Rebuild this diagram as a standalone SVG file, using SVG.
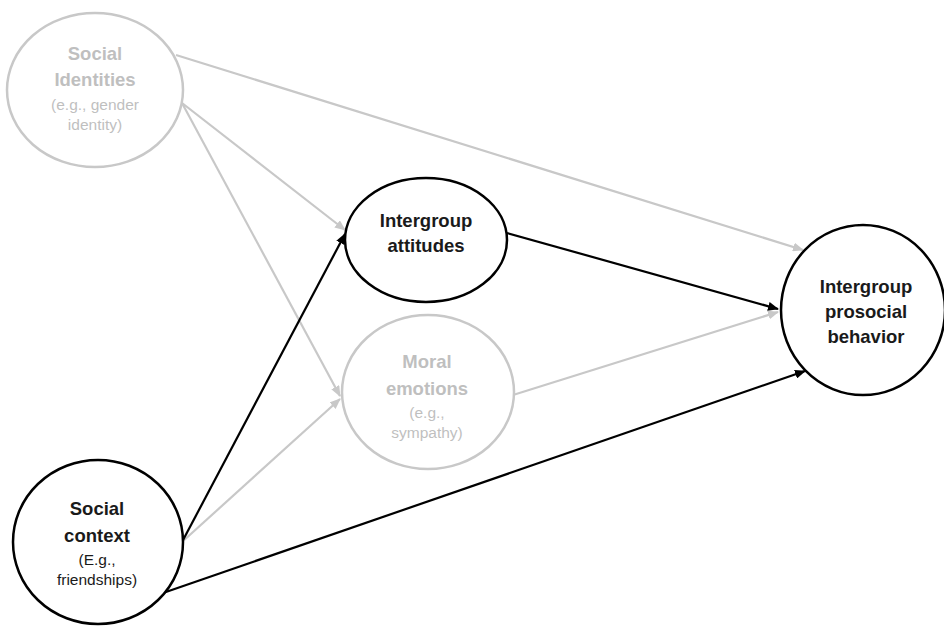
<svg xmlns="http://www.w3.org/2000/svg" width="944" height="628" viewBox="0 0 944 628">
<style>
.nb{fill:#fff;stroke:#000;stroke-width:2.5}
.ng{fill:#fff;stroke:#c8c8c8;stroke-width:2.5}
.t{font-family:"Liberation Sans",Arial,sans-serif;text-anchor:middle}
.b{font-weight:bold;font-size:18.5px}
.r{font-size:15.5px}
.tb{fill:#1a1a1a}
.tg{fill:#bfbfbf}
.cb{stroke:#000;stroke-width:2.2;fill:none}
.cg{stroke:#c8c8c8;stroke-width:2.2;fill:none}
</style>
<defs>
<marker id="ab" markerUnits="userSpaceOnUse" markerWidth="11" markerHeight="9" refX="10" refY="4.5" orient="auto"><path d="M0,0 L11,4.5 L0,9 z" fill="#000"/></marker>
<marker id="ag" markerUnits="userSpaceOnUse" markerWidth="11" markerHeight="9" refX="10" refY="4.5" orient="auto"><path d="M0,0 L11,4.5 L0,9 z" fill="#c8c8c8"/></marker>
</defs>
<rect width="944" height="628" fill="#fff"/>
<g id="connectors">
<line class="cg" x1="176" y1="55" x2="803" y2="250" marker-end="url(#ag)"/>
<line class="cg" x1="182" y1="103" x2="345" y2="230" marker-end="url(#ag)"/>
<line class="cg" x1="182" y1="103" x2="340" y2="396" marker-end="url(#ag)"/>
<line class="cg" x1="182" y1="542" x2="340" y2="399" marker-end="url(#ag)"/>
<line class="cg" x1="513" y1="395" x2="778" y2="312" marker-end="url(#ag)"/>
<line class="cb" x1="182" y1="542" x2="345" y2="234" marker-end="url(#ab)"/>
<line class="cb" x1="507" y1="233" x2="778" y2="309" marker-end="url(#ab)"/>
<line class="cb" x1="163" y1="593" x2="805" y2="371" marker-end="url(#ab)"/>
</g>
<g id="social-identities">
<ellipse class="ng" cx="95" cy="90" rx="88" ry="77"/>
<text class="t b tg" x="95" y="60">Social</text>
<text class="t b tg" x="95" y="86">Identities</text>
<text class="t r tg" x="95" y="110">(e.g., gender</text>
<text class="t r tg" x="95" y="130">identity)</text>
</g>
<g id="intergroup-attitudes">
<ellipse class="nb" cx="426" cy="240" rx="81" ry="62"/>
<text class="t b tb" x="426" y="227">Intergroup</text>
<text class="t b tb" x="426" y="252">attitudes</text>
</g>
<g id="moral-emotions">
<ellipse class="ng" cx="428" cy="392" rx="86" ry="77"/>
<text class="t b tg" x="427" y="368">Moral</text>
<text class="t b tg" x="427" y="395">emotions</text>
<text class="t r tg" x="427" y="418">(e.g.,</text>
<text class="t r tg" x="427" y="438">sympathy)</text>
</g>
<g id="social-context">
<ellipse class="nb" cx="98" cy="542" rx="85" ry="82"/>
<text class="t b tb" x="97" y="515">Social</text>
<text class="t b tb" x="97" y="542">context</text>
<text class="t r tb" x="97" y="565">(E.g.,</text>
<text class="t r tb" x="97" y="585">friendships)</text>
</g>
<g id="intergroup-prosocial-behavior">
<ellipse class="nb" cx="863" cy="310" rx="82" ry="85"/>
<text class="t b tb" x="866" y="293">Intergroup</text>
<text class="t b tb" x="866" y="318">prosocial</text>
<text class="t b tb" x="866" y="343">behavior</text>
</g>
</svg>
